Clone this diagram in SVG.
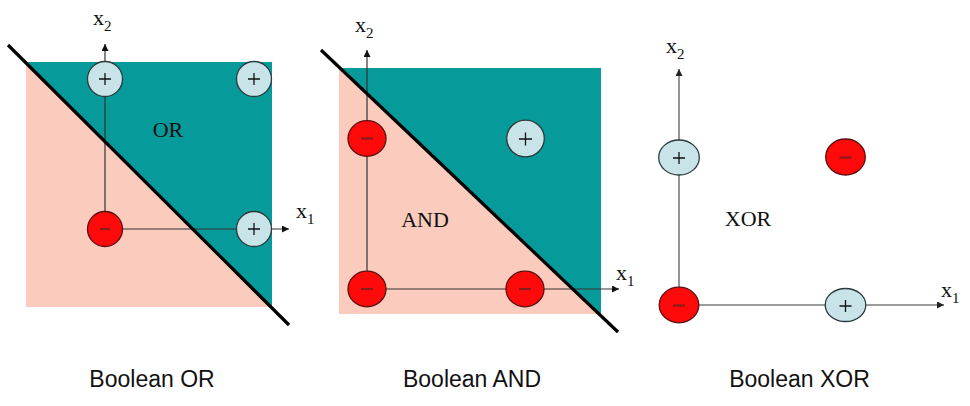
<svg xmlns="http://www.w3.org/2000/svg" width="970" height="406" viewBox="0 0 970 406">
<defs>
<marker id="ah" viewBox="0 0 10 10" refX="10" refY="5" markerWidth="8" markerHeight="7" markerUnits="userSpaceOnUse" orient="auto">
<path d="M0,0 L10,5 L0,10 z" fill="#111"/>
</marker>
<marker id="ahg" viewBox="0 0 10 10" refX="10" refY="5" markerWidth="8" markerHeight="7" markerUnits="userSpaceOnUse" orient="auto">
<path d="M0,0 L10,5 L0,10 z" fill="#222"/>
</marker>
</defs>
<style>
.pink{fill:#fbcbbd}
.teal{fill:#079a9a}
.axis{stroke:#333;stroke-width:1.2;fill:none}
.axisg{stroke:#7a7a7a;stroke-width:1.6;fill:none}
.sep{stroke:#000;stroke-width:3.2;fill:none}
.pos{fill:#c9e4e8;stroke:#2b3a3c;stroke-width:1.3}
.neg{fill:#ff0a0a;stroke:#5a1010;stroke-width:1.3}
.plus{stroke:#111;stroke-width:1.3;fill:none}
.minus{stroke:#8a1c1c;stroke-width:2.2;fill:none}
.serif{font-family:"Liberation Serif","Times New Roman",serif;fill:#111}
.lab{font-size:22px}
.sub{font-size:15px}
.cap{font-family:"Liberation Sans",Arial,sans-serif;font-size:23px;fill:#111;text-anchor:middle}
</style>

<!-- Panel backgrounds -->
<g id="or-region">
<rect class="pink" x="26" y="62" width="246" height="245"/>
<polygon class="teal" points="26,62 272,62 272,307"/>
</g>
<g id="and-region">
<rect class="pink" x="339" y="68" width="262" height="246"/>
<polygon class="teal" points="339,68 601,68 601,314"/>
</g>

<!-- Connectors: axes and separating lines -->
<g id="connectors">
<line class="axis" x1="105" y1="229" x2="105" y2="44" marker-end="url(#ah)"/>
<line class="axis" x1="105" y1="229" x2="289" y2="229" marker-end="url(#ah)"/>
<line class="sep" x1="8" y1="45" x2="289" y2="325"/>

<line class="axis" x1="367" y1="289" x2="367" y2="50" marker-end="url(#ah)"/>
<line class="axis" x1="367" y1="289" x2="619" y2="289" marker-end="url(#ah)"/>
<line class="sep" x1="321" y1="50" x2="618" y2="332"/>

<line class="axisg" x1="679" y1="305" x2="679" y2="69" marker-end="url(#ahg)"/>
<line class="axisg" x1="679" y1="305" x2="944" y2="305" marker-end="url(#ahg)"/>
</g>

<!-- OR nodes -->
<g id="or-p01"><circle class="pos" cx="105" cy="79" r="17.5"/><path class="plus" d="M99,79 H111 M105,73 V85"/></g>
<g id="or-p11"><circle class="pos" cx="254" cy="79" r="17.5"/><path class="plus" d="M248,79 H260 M254,73 V85"/></g>
<g id="or-p10"><circle class="pos" cx="254" cy="229" r="17.5"/><path class="plus" d="M248,229 H260 M254,223 V235"/></g>
<g id="or-n00"><circle class="neg" cx="105" cy="229" r="17.5"/><path class="minus" d="M100,229 H110"/></g>

<!-- AND nodes -->
<g id="and-n01"><ellipse class="neg" cx="367" cy="138.5" rx="19" ry="17.8"/><path class="minus" d="M361,138.5 H373"/></g>
<g id="and-p11"><ellipse class="pos" cx="525.5" cy="138.5" rx="18.8" ry="18.3"/><path class="plus" d="M519,139 H532 M525.5,132.5 V145.5"/></g>
<g id="and-n00"><ellipse class="neg" cx="367" cy="289" rx="19" ry="17.8"/><path class="minus" d="M361,289 H373"/></g>
<g id="and-n10"><ellipse class="neg" cx="525" cy="289" rx="19" ry="17.8"/><path class="minus" d="M519,289 H531"/></g>

<!-- XOR nodes -->
<g id="xor-p01"><ellipse class="pos" cx="679" cy="157.5" rx="20.3" ry="17.5"/><path class="plus" d="M673,158 H685 M679,152 V164"/></g>
<g id="xor-n11"><ellipse class="neg" cx="845.5" cy="157" rx="19.8" ry="18"/><path class="minus" d="M839.5,157.5 H851.5"/></g>
<g id="xor-n00"><ellipse class="neg" cx="679" cy="305" rx="19.8" ry="17.8"/><path class="minus" d="M673,305.5 H685"/></g>
<g id="xor-p10"><ellipse class="pos" cx="845.5" cy="305" rx="20.3" ry="16.5"/><path class="plus" d="M839.5,306 H851.5 M845.5,300 V312"/></g>

<!-- Labels -->
<g id="labels">
<text class="serif lab" x="168" y="137" text-anchor="middle">OR</text>
<text class="serif lab" x="425" y="227" text-anchor="middle">AND</text>
<text class="serif lab" x="748" y="226" text-anchor="middle">XOR</text>

<text class="serif lab" x="93" y="25">x</text><text class="serif sub" x="104" y="31">2</text>
<text class="serif lab" x="296" y="218">x</text><text class="serif sub" x="307" y="224">1</text>

<text class="serif lab" x="355" y="32">x</text><text class="serif sub" x="366" y="38">2</text>
<text class="serif lab" x="616" y="280">x</text><text class="serif sub" x="627" y="286">1</text>

<text class="serif lab" x="666" y="53">x</text><text class="serif sub" x="677" y="59">2</text>
<text class="serif lab" x="941" y="297">x</text><text class="serif sub" x="952" y="303">1</text>

<text class="cap" x="152" y="387">Boolean OR</text>
<text class="cap" x="472" y="387">Boolean AND</text>
<text class="cap" x="799.5" y="387">Boolean XOR</text>
</g>
</svg>
